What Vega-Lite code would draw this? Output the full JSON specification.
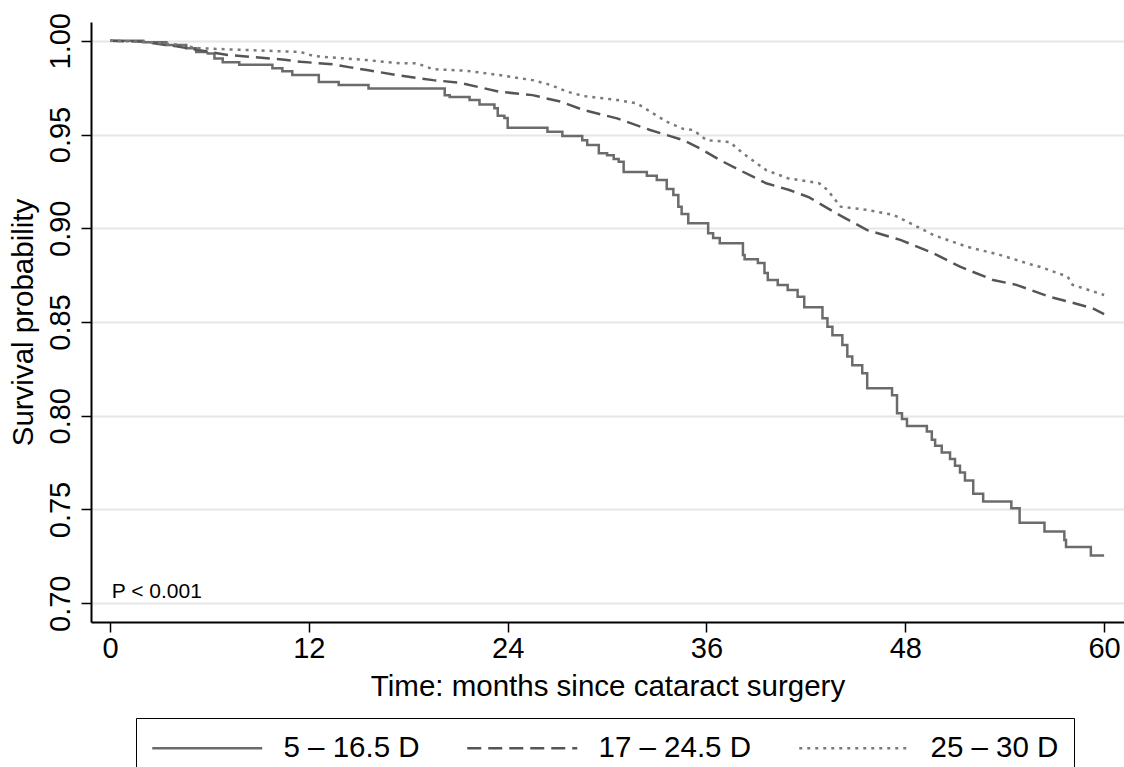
{
  "$schema": "https://vega.github.io/schema/vega-lite/v6.json",
  "width": 1033,
  "height": 600,
  "autosize": "none",
  "padding": {"left": 91, "top": 22, "right": 0, "bottom": 145},
  "background": "white",
  "config": {
    "font": "Liberation Sans",
    "view": {"stroke": null},
    "axis": {"labelColor": "black", "titleColor": "black", "titleFontWeight": "normal", "domainColor": "black", "tickColor": "black"},
    "legend": {"title": null, "orient": "none", "legendX": 45, "legendY": 696, "direction": "horizontal", "strokeColor": "black", "padding": 15, "labelFontSize": 29.5, "labelColor": "black", "symbolType": "M-1,0H7", "symbolSize": 756, "symbolStrokeWidth": 2.5, "labelOffset": 102.5, "columnPadding": 42}
  },
  "datasets": {
    "solid": [
      {"t": 0, "s": 1.0}, {"t": 2, "s": 0.9992}, {"t": 3.4, "s": 0.9977}, {"t": 4.6, "s": 0.996}, {"t": 5.2, "s": 0.994}, {"t": 5.9, "s": 0.9932}, {"t": 6.3, "s": 0.9906}, {"t": 6.8, "s": 0.9885}, {"t": 7.8, "s": 0.9872}, {"t": 9.8, "s": 0.9853}, {"t": 10.4, "s": 0.9838}, {"t": 11, "s": 0.9818}, {"t": 12.6, "s": 0.978}, {"t": 13.8, "s": 0.9764}, {"t": 15.6, "s": 0.9746}, {"t": 20.2, "s": 0.971}, {"t": 20.5, "s": 0.970}, {"t": 21.7, "s": 0.9684}, {"t": 22.3, "s": 0.966}, {"t": 23.2, "s": 0.964}, {"t": 23.4, "s": 0.960}, {"t": 23.8, "s": 0.9588}, {"t": 24, "s": 0.9536}, {"t": 26.4, "s": 0.9515}, {"t": 27.3, "s": 0.9492}, {"t": 28.5, "s": 0.947}, {"t": 28.8, "s": 0.9444}, {"t": 29.5, "s": 0.940}, {"t": 30, "s": 0.939}, {"t": 30.4, "s": 0.937}, {"t": 30.7, "s": 0.9355}, {"t": 31, "s": 0.930}, {"t": 32.4, "s": 0.928}, {"t": 33, "s": 0.9257}, {"t": 33.6, "s": 0.921}, {"t": 34, "s": 0.9178}, {"t": 34.3, "s": 0.9115}, {"t": 34.5, "s": 0.9076}, {"t": 34.9, "s": 0.9027}, {"t": 36.1, "s": 0.8973}, {"t": 36.4, "s": 0.8948}, {"t": 36.8, "s": 0.892}, {"t": 38.2, "s": 0.8858}, {"t": 38.3, "s": 0.8835}, {"t": 39.1, "s": 0.8815}, {"t": 39.5, "s": 0.8762}, {"t": 39.7, "s": 0.8724}, {"t": 40.3, "s": 0.8698}, {"t": 40.9, "s": 0.8671}, {"t": 41.5, "s": 0.8635}, {"t": 41.9, "s": 0.8579}, {"t": 43, "s": 0.852}, {"t": 43.3, "s": 0.8475}, {"t": 43.6, "s": 0.843}, {"t": 44.2, "s": 0.8378}, {"t": 44.5, "s": 0.8316}, {"t": 44.8, "s": 0.827}, {"t": 45.4, "s": 0.8227}, {"t": 45.7, "s": 0.8147}, {"t": 47.2, "s": 0.811}, {"t": 47.5, "s": 0.8014}, {"t": 47.8, "s": 0.7983}, {"t": 48.1, "s": 0.7946}, {"t": 49.3, "s": 0.7916}, {"t": 49.6, "s": 0.7872}, {"t": 49.8, "s": 0.784}, {"t": 50.2, "s": 0.7804}, {"t": 50.7, "s": 0.7769}, {"t": 51, "s": 0.7733}, {"t": 51.3, "s": 0.7697}, {"t": 51.6, "s": 0.7655}, {"t": 52.1, "s": 0.7584}, {"t": 52.7, "s": 0.7543}, {"t": 54.4, "s": 0.7507}, {"t": 54.9, "s": 0.743}, {"t": 56.4, "s": 0.7383}, {"t": 57.6, "s": 0.7338}, {"t": 57.7, "s": 0.730}, {"t": 59.2, "s": 0.7255}, {"t": 60, "s": 0.7255}
    ],
    "dashed": [
      {"t": 0, "s": 1.0}, {"t": 2, "s": 0.9995}, {"t": 4, "s": 0.997}, {"t": 5.4, "s": 0.995}, {"t": 7.1, "s": 0.9924}, {"t": 8.4, "s": 0.9915}, {"t": 10.4, "s": 0.990}, {"t": 11.5, "s": 0.9888}, {"t": 13.5, "s": 0.9874}, {"t": 14.5, "s": 0.9858}, {"t": 15.5, "s": 0.9844}, {"t": 17.5, "s": 0.9814}, {"t": 19.5, "s": 0.979}, {"t": 21.1, "s": 0.9776}, {"t": 23.5, "s": 0.9728}, {"t": 25.5, "s": 0.971}, {"t": 27.2, "s": 0.9675}, {"t": 28.6, "s": 0.963}, {"t": 30.6, "s": 0.9586}, {"t": 32.6, "s": 0.9524}, {"t": 34.6, "s": 0.947}, {"t": 35.6, "s": 0.9426}, {"t": 36.8, "s": 0.9364}, {"t": 38, "s": 0.931}, {"t": 39.6, "s": 0.924}, {"t": 41, "s": 0.9204}, {"t": 42.2, "s": 0.9165}, {"t": 43.3, "s": 0.9107}, {"t": 44.2, "s": 0.9062}, {"t": 45.7, "s": 0.899}, {"t": 47.7, "s": 0.8938}, {"t": 49.7, "s": 0.8867}, {"t": 51.3, "s": 0.8795}, {"t": 53.3, "s": 0.8724}, {"t": 54.7, "s": 0.8698}, {"t": 56.7, "s": 0.8635}, {"t": 58.1, "s": 0.8603}, {"t": 59.3, "s": 0.8573}, {"t": 60, "s": 0.8542}
    ],
    "dotted": [
      {"t": 0, "s": 1.0}, {"t": 2, "s": 0.9995}, {"t": 4, "s": 0.998}, {"t": 5.4, "s": 0.996}, {"t": 8.4, "s": 0.995}, {"t": 11.5, "s": 0.994}, {"t": 12.3, "s": 0.9918}, {"t": 15.5, "s": 0.9897}, {"t": 17.5, "s": 0.988}, {"t": 18.5, "s": 0.988}, {"t": 19.5, "s": 0.9848}, {"t": 21.5, "s": 0.984}, {"t": 23.5, "s": 0.9817}, {"t": 25.5, "s": 0.979}, {"t": 26.6, "s": 0.9764}, {"t": 27.6, "s": 0.9728}, {"t": 28.6, "s": 0.9705}, {"t": 30.6, "s": 0.9684}, {"t": 31.8, "s": 0.9666}, {"t": 32.6, "s": 0.9622}, {"t": 33.6, "s": 0.9568}, {"t": 34.6, "s": 0.953}, {"t": 35.2, "s": 0.9524}, {"t": 36, "s": 0.947}, {"t": 37.4, "s": 0.946}, {"t": 38.2, "s": 0.94}, {"t": 39.6, "s": 0.931}, {"t": 40.9, "s": 0.9267}, {"t": 42.8, "s": 0.924}, {"t": 43.3, "s": 0.9204}, {"t": 44.1, "s": 0.9115}, {"t": 45.7, "s": 0.9098}, {"t": 47.3, "s": 0.9071}, {"t": 48.7, "s": 0.9009}, {"t": 49.7, "s": 0.8964}, {"t": 51.7, "s": 0.8902}, {"t": 53.7, "s": 0.8858}, {"t": 55.7, "s": 0.8804}, {"t": 56.1, "s": 0.8795}, {"t": 57.8, "s": 0.8742}, {"t": 58.1, "s": 0.8698}, {"t": 60, "s": 0.8644}
    ],
    "note": [{"t": 0.1, "s": 0.7029, "label": "P < 0.001"}]
  },
  "layer": [
    {
      "data": {"name": "solid"},
      "transform": [{"calculate": "'5 – 16.5 D'", "as": "group"}],
      "mark": {"type": "line", "interpolate": "step-after", "strokeWidth": 2.5},
      "encoding": {
        "x": {"field": "t", "type": "quantitative", "scale": {"domain": [-1.15, 61.2], "nice": false, "zero": false},
          "axis": {"values": [0, 12, 24, 36, 48, 60], "title": "Time: months since cataract surgery", "grid": false, "domainWidth": 2, "tickWidth": 1.5, "tickSize": 10, "labelFontSize": 29, "labelPadding": 2, "titleFontSize": 29.5, "titlePadding": 9}},
        "y": {"field": "s", "type": "quantitative", "scale": {"domain": [0.69, 1.01], "nice": false, "zero": false},
          "axis": {"values": [0.7, 0.75, 0.8, 0.85, 0.9, 0.95, 1.0], "format": ".2f", "title": "Survival probability", "grid": true, "gridColor": "#e6e6e6", "gridWidth": 2, "domainWidth": 2, "tickWidth": 1.5, "tickSize": 10, "labelFontSize": 29, "labelAngle": -90, "labelAlign": "center", "labelBaseline": "alphabetic", "labelPadding": 12, "titleFontSize": 29.5, "titleX": -59, "titleY": 300, "titleAngle": 270, "titleAlign": "center", "titleBaseline": "alphabetic"}},
        "color": {"field": "group", "type": "nominal", "scale": {"domain": ["5 – 16.5 D", "17 – 24.5 D", "25 – 30 D"], "range": ["#6b6b6b", "#555555", "#7a7a7a"]}},
        "strokeDash": {"field": "group", "type": "nominal", "scale": {"domain": ["5 – 16.5 D", "17 – 24.5 D", "25 – 30 D"], "range": [[1, 0], [14, 7], [3, 5]]}}
      }
    },
    {
      "data": {"name": "dashed"},
      "transform": [{"calculate": "'17 – 24.5 D'", "as": "group"}],
      "mark": {"type": "line", "interpolate": "linear", "strokeWidth": 2.5},
      "encoding": {
        "x": {"field": "t", "type": "quantitative"},
        "y": {"field": "s", "type": "quantitative"},
        "color": {"field": "group", "type": "nominal"},
        "strokeDash": {"field": "group", "type": "nominal"}
      }
    },
    {
      "data": {"name": "dotted"},
      "transform": [{"calculate": "'25 – 30 D'", "as": "group"}],
      "mark": {"type": "line", "interpolate": "linear", "strokeWidth": 2.5},
      "encoding": {
        "x": {"field": "t", "type": "quantitative"},
        "y": {"field": "s", "type": "quantitative"},
        "color": {"field": "group", "type": "nominal"},
        "strokeDash": {"field": "group", "type": "nominal"}
      }
    },
    {
      "data": {"name": "note"},
      "mark": {"type": "text", "align": "left", "baseline": "alphabetic", "fontSize": 21, "color": "black"},
      "encoding": {
        "x": {"field": "t", "type": "quantitative"},
        "y": {"field": "s", "type": "quantitative"},
        "text": {"field": "label"}
      }
    }
  ]
}
